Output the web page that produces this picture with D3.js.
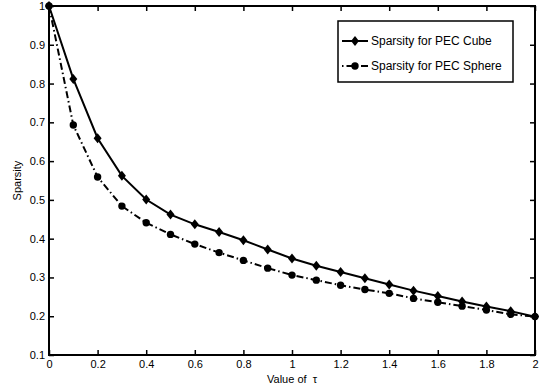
<!DOCTYPE html>
<html><head><meta charset="utf-8">
<script src="https://cdn.jsdelivr.net/npm/d3@7"></script>
<style>
body{margin:0;background:#fff;}
svg{display:block;font-family:"Liberation Sans",Arial,sans-serif;}
</style></head>
<body>
<svg id="c" width="539" height="389"></svg>
<script>
const tau = [0,0.1,0.2,0.3,0.4,0.5,0.6,0.7,0.8,0.9,1.0,1.1,1.2,1.3,1.4,1.5,1.6,1.7,1.8,1.9,2.0];
const cube = [1,0.812,0.659,0.562,0.501,0.462,0.437,0.417,0.396,0.372,0.349,0.330,0.314,0.298,0.282,0.266,0.252,0.238,0.225,0.213,0.199];
const sphere = [1,0.693,0.559,0.484,0.441,0.411,0.386,0.364,0.344,0.324,0.306,0.293,0.280,0.269,0.259,0.246,0.236,0.226,0.216,0.205,0.199];
const xTicks = [0,0.2,0.4,0.6,0.8,1,1.2,1.4,1.6,1.8,2];
const yTicks = [0.1,0.2,0.3,0.4,0.5,0.6,0.7,0.8,0.9,1];
const seriesNames = ["Sparsity for PEC Cube","Sparsity for PEC Sphere"];

const svg = d3.select("#c");
const L=49, R=535, T=6, B=355;
const x = d3.scaleLinear().domain([0,2]).range([L,R]);
const y = d3.scaleLinear().domain([0.1,1]).range([B,T]);

const fmt = d => String(+d.toFixed(1));
const fs = 11;
const gB = svg.append("g").attr("transform",`translate(0,${B})`)
  .call(d3.axisBottom(x).tickValues(xTicks).tickSize(-5).tickPadding(5).tickFormat(fmt));
const gT = svg.append("g").attr("transform",`translate(0,${T})`)
  .call(d3.axisTop(x).tickValues(xTicks).tickSize(-5).tickFormat(""));
const gL = svg.append("g").attr("transform",`translate(${L},0)`)
  .call(d3.axisLeft(y).tickValues(yTicks).tickSize(-5).tickPadding(4).tickFormat(fmt));
const gR = svg.append("g").attr("transform",`translate(${R},0)`)
  .call(d3.axisRight(y).tickValues(yTicks).tickSize(-5).tickFormat(""));
[gB,gT,gL,gR].forEach(g=>{
  g.select(".domain").remove();
  g.selectAll(".tick line").attr("stroke","#000").attr("stroke-width",1.5);
  g.selectAll("text").attr("font-size",fs).attr("fill","#000").attr("font-family","Liberation Sans, Arial, sans-serif");
});
svg.append("rect").attr("x",L).attr("y",T).attr("width",R-L).attr("height",B-T)
  .attr("fill","none").attr("stroke","#000").attr("stroke-width",2);

svg.append("text").attr("x",(L+R)/2).attr("y",383).attr("text-anchor","middle")
  .attr("font-size",fs).text("Value of ").append("tspan").attr("dx",3).text("τ");
svg.append("text").attr("transform",`translate(21,${(T+B)/2}) rotate(-90)`)
  .attr("text-anchor","middle").attr("font-size",fs).text("Sparsity");

const line = d3.line().x((d,i)=>x(tau[i])).y(d=>y(d));
const diamond = (cx,cy,s=5) => `M${cx},${cy-s}L${cx+s*0.8},${cy}L${cx},${cy+s}L${cx-s*0.8},${cy}Z`;

svg.append("path").datum(cube).attr("d",line).attr("fill","none").attr("stroke","#000").attr("stroke-width",2);
svg.append("path").datum(sphere).attr("d",line).attr("fill","none").attr("stroke","#000").attr("stroke-width",2)
  .attr("stroke-dasharray","7,3,1.5,3");

svg.append("g").selectAll("path").data(cube).join("path")
  .attr("d",(d,i)=>diamond(x(tau[i]),y(d))).attr("fill","#000");
svg.append("g").selectAll("circle").data(sphere).join("circle")
  .attr("cx",(d,i)=>x(tau[i])).attr("cy",d=>y(d)).attr("r",3.7).attr("fill","#000");

const lg = svg.append("g");
lg.append("rect").attr("x",338).attr("y",21).attr("width",175).attr("height",61)
  .attr("fill","#fff").attr("stroke","#000").attr("stroke-width",1.5);
const rows = [41,66];
lg.append("line").attr("x1",342).attr("x2",368).attr("y1",rows[0]).attr("y2",rows[0]).attr("stroke","#000").attr("stroke-width",2);
lg.append("path").attr("d",diamond(355,rows[0])).attr("fill","#000");
lg.append("line").attr("x1",342).attr("x2",368).attr("y1",rows[1]).attr("y2",rows[1]).attr("stroke","#000").attr("stroke-width",2).attr("stroke-dasharray","1.5,3,7,3");
lg.append("circle").attr("cx",355).attr("cy",rows[1]).attr("r",3.7).attr("fill","#000");
seriesNames.forEach((n,i)=>{
  lg.append("text").attr("x",371).attr("y",rows[i]+4).attr("font-size",12).text(n);
});
</script>
</body></html>
